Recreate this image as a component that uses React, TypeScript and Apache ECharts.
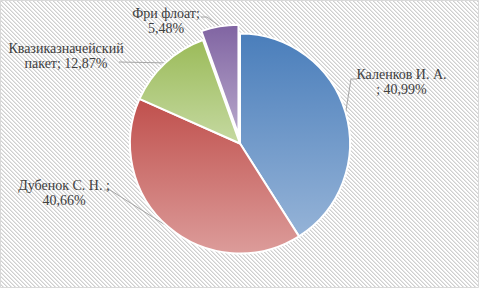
import { useEffect, useRef } from 'react';
import * as echarts from 'echarts';

// ---- data ----
const names = ['Каленков И. А.', 'Дубенок С. Н.', 'Квазиказначейский пакет', 'Фри флоат'];
const values = [40.99, 40.66, 12.87, 5.48];
const labelTemplates = ['Каленков И. А.\n; {v}', 'Дубенок С. Н. ;\n{v}', 'Квазиказначейский\nпакет; {v}', 'Фри флоат;\n{v}'];
const exploded = [false, false, false, true];

// ---- styles / layout ----
const topColors = ['#4a7ebb', '#c0504d', '#9bbb59', '#8064a2'];
const bottomColors = ['#95b3d7', '#dc9c9a', '#c5d9a1', '#b7a7cb'];
const CENTER: [number, number] = [240, 143.5];
const RADIUS = 110;
const OFFSET = 9;
const labelCenters = [[401.5, 82], [64, 192.5], [66, 56], [166, 21]];
const labelKnees = [[351, 79], [110, 190], [119, 62], [207, 17]];
const labelEnds = [[357, 79], [104, 190], [119, 62], [201, 17]];

function makeHatch(): HTMLCanvasElement {
  const c = document.createElement('canvas');
  c.width = 4;
  c.height = 4;
  const ctx = c.getContext('2d')!;
  ctx.fillStyle = '#ffffff';
  ctx.fillRect(0, 0, 4, 4);
  for (let i = 0; i < 4; i++) {
    ctx.fillStyle = '#cfcfcf';
    ctx.fillRect(i, i, 1, 1);
    ctx.fillStyle = '#e6e6e6';
    ctx.fillRect((i + 1) % 4, i, 1, 1);
  }
  return c;
}

export default function App() {
  const ref = useRef<HTMLDivElement>(null);
  useEffect(() => {
    document.body.style.margin = '0';
    const chart = echarts.init(ref.current!, null, { renderer: 'svg' });
    const total = values.reduce((a, b) => a + b, 0);
    const cum: number[] = [];
    values.reduce((acc, v) => { cum.push(acc); return acc + v; }, 0);
    const midAngle = (i: number) => (2 * Math.PI * (cum[i] + values[i] / 2)) / total;
    const anchor = (i: number): number[] => {
      const th = midAngle(i);
      const r = RADIUS + (exploded[i] ? OFFSET : 0);
      return [CENTER[0] + r * Math.sin(th), CENTER[1] - r * Math.cos(th)];
    };
    const fmt = (v: number) => v.toFixed(2).replace('.', ',') + '%';

    const makeSeries = (explodedGroup: boolean) => {
      // the exploded slice is drawn by a second pie whose centre is pushed out along its mid-angle
      let center: number[] = CENTER;
      if (explodedGroup) {
        const i = exploded.indexOf(true);
        const th = midAngle(i);
        center = [CENTER[0] + OFFSET * Math.sin(th), CENTER[1] - OFFSET * Math.cos(th)];
      }
      return {
        type: 'pie',
        center,
        radius: RADIUS,
        startAngle: 90,
        clockwise: true,
        silent: true,
        emphasis: { disabled: true },
        label: {
          show: true,
          position: 'outside',
          color: '#404040',
          fontFamily: 'Liberation Serif',
          fontSize: 14,
          lineHeight: 15,
          align: 'center',
          overflow: 'none',
          formatter: (p: any) => labelTemplates[p.dataIndex].replace('{v}', fmt(values[p.dataIndex])),
        },
        labelLine: { show: true, lineStyle: { color: '#a6a6a6', width: 1 } },
        labelLayout: (p: any) => {
          const i = p.dataIndex;
          return {
            x: labelCenters[i][0],
            y: labelCenters[i][1],
            align: 'center',
            verticalAlign: 'middle',
            labelLinePoints: [anchor(i), labelKnees[i], labelEnds[i]],
          };
        },
        data: names.map((n, i) => {
          const visible = exploded[i] === explodedGroup;
          return {
            name: n,
            value: values[i],
            label: { show: visible },
            labelLine: { show: visible },
            itemStyle: visible
              ? {
                  borderColor: '#ffffff',
                  borderWidth: 2,
                  color: {
                    type: 'linear',
                    x: 0, y: 0, x2: 0, y2: 1,
                    colorStops: [
                      { offset: 0, color: topColors[i] },
                      { offset: 1, color: bottomColors[i] },
                    ],
                  },
                }
              : { color: 'rgba(0,0,0,0)', borderWidth: 0 },
          };
        }),
      };
    };

    chart.setOption({
      animation: false,
      graphic: [
        {
          type: 'rect',
          z: -100,
          silent: true,
          shape: { x: 0.5, y: 0.5, width: 478, height: 287 },
          style: {
            fill: { image: makeHatch(), repeat: 'repeat', imageWidth: 4, imageHeight: 4 },
            stroke: '#d9d9d9',
            lineWidth: 1,
          },
        },
      ],
      series: [makeSeries(false), makeSeries(true)],
    });
    return () => chart.dispose();
  }, []);
  return <div ref={ref} style={{ width: 479, height: 288 }} />;
}
